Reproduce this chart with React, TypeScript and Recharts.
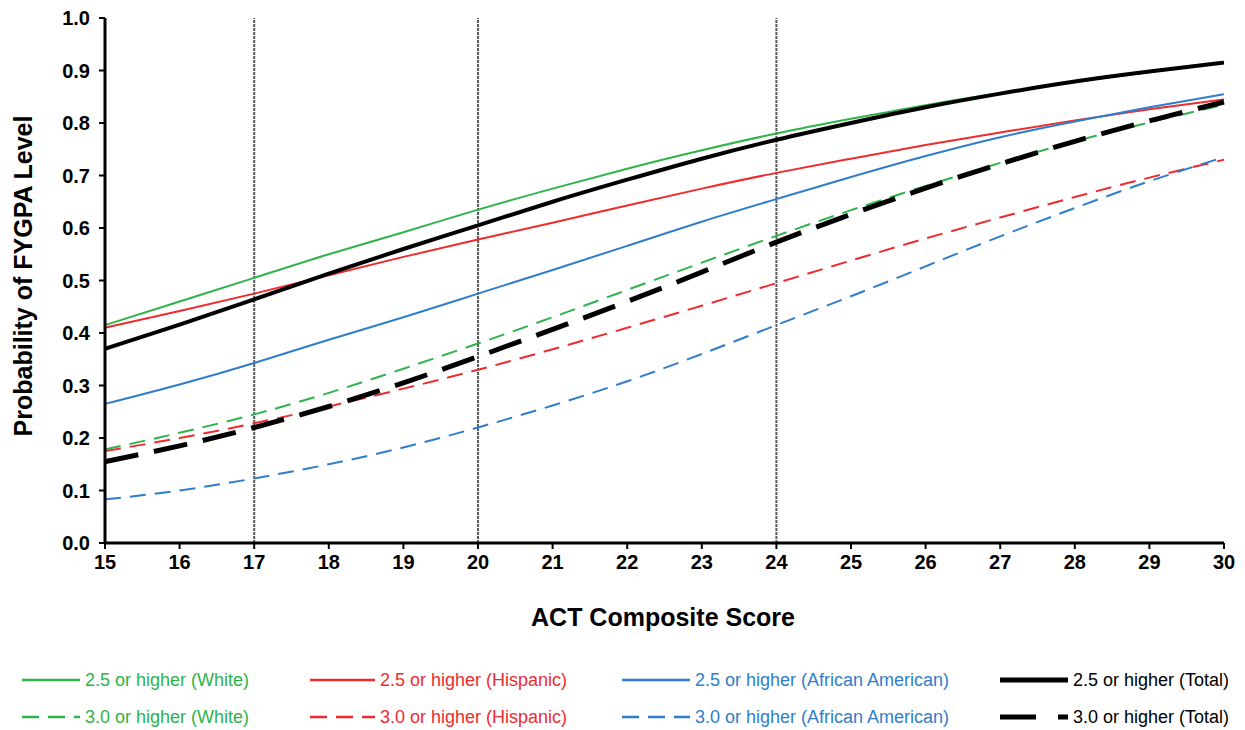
import React from 'react';
import { LineChart, Line, XAxis, YAxis, ReferenceLine, Legend } from 'recharts';

const scores = [15, 16, 17, 18, 19, 20, 21, 22, 23, 24, 25, 26, 27, 28, 29, 30];
const white25 = [0.415, 0.46, 0.505, 0.55, 0.592, 0.635, 0.675, 0.713, 0.748, 0.78, 0.808, 0.834, 0.857, 0.878, 0.897, 0.915];
const hisp25 = [0.41, 0.442, 0.475, 0.51, 0.545, 0.578, 0.61, 0.643, 0.675, 0.705, 0.732, 0.758, 0.782, 0.805, 0.826, 0.845];
const aa25 = [0.265, 0.302, 0.343, 0.387, 0.43, 0.475, 0.52, 0.566, 0.612, 0.655, 0.697, 0.737, 0.773, 0.803, 0.83, 0.855];
const total25 = [0.37, 0.416, 0.464, 0.513, 0.56, 0.605, 0.65, 0.692, 0.732, 0.768, 0.8, 0.83, 0.856, 0.879, 0.898, 0.915];
const white30 = [0.178, 0.21, 0.245, 0.286, 0.332, 0.38, 0.43, 0.482, 0.534, 0.585, 0.634, 0.68, 0.724, 0.765, 0.801, 0.835];
const hisp30 = [0.175, 0.2, 0.228, 0.26, 0.294, 0.33, 0.369, 0.41, 0.452, 0.495, 0.538, 0.58, 0.62, 0.659, 0.696, 0.73];
const aa30 = [0.083, 0.1, 0.123, 0.15, 0.182, 0.22, 0.262, 0.308, 0.36, 0.415, 0.47, 0.527, 0.584, 0.638, 0.689, 0.735];
const total30 = [0.155, 0.185, 0.22, 0.26, 0.305, 0.355, 0.407, 0.46, 0.516, 0.573, 0.626, 0.676, 0.722, 0.765, 0.804, 0.84];
const yTicks = [0, 0.1, 0.2, 0.3, 0.4, 0.5, 0.6, 0.7, 0.8, 0.9, 1.0];
const cutScores = [17, 20, 24];

const GREEN = '#2fb34a';
const RED = '#ee2b2f';
const BLUE = '#2f7dcb';
const BLACK = '#000000';

const data = scores.map((s, i) => ({
  score: s,
  white25: white25[i],
  hisp25: hisp25[i],
  aa25: aa25[i],
  total25: total25[i],
  white30: white30[i],
  hisp30: hisp30[i],
  aa30: aa30[i],
  total30: total30[i],
}));

type Item = { key: string; label: string; color: string; width: number; dash?: string };
const legendRow1: Item[] = [
  { key: 'white25', label: '2.5 or higher (White)', color: GREEN, width: 2.5 },
  { key: 'hisp25', label: '2.5 or higher (Hispanic)', color: RED, width: 2.5 },
  { key: 'aa25', label: '2.5 or higher (African American)', color: BLUE, width: 2.5 },
  { key: 'total25', label: '2.5 or higher (Total)', color: BLACK, width: 5 },
];
const legendRow2: Item[] = [
  { key: 'white30', label: '3.0 or higher (White)', color: GREEN, width: 2.5, dash: '17 9' },
  { key: 'hisp30', label: '3.0 or higher (Hispanic)', color: RED, width: 2.5, dash: '17 9' },
  { key: 'aa30', label: '3.0 or higher (African American)', color: BLUE, width: 2.5, dash: '17 9' },
  { key: 'total30', label: '3.0 or higher (Total)', color: BLACK, width: 5, dash: '36 22' },
];
const colX = [22, 310, 622, 1000];
const lineLen = [58, 65, 68, 68];

const FONT = '"Liberation Sans", Arial, sans-serif';

const renderLegend = () => (
  <div style={{ position: 'relative', width: 1245, height: 70, fontFamily: FONT }}>
    {[legendRow1, legendRow2].map((row, r) =>
      row.map((it, c) => (
        <div
          key={it.key}
          style={{
            position: 'absolute',
            left: colX[c],
            top: r * 37,
            height: 22,
            display: 'flex',
            alignItems: 'center',
            whiteSpace: 'nowrap',
          }}
        >
          <svg width={lineLen[c]} height={22} style={{ display: 'block' }}>
            <line x1={0} y1={11} x2={lineLen[c]} y2={11} stroke={it.color} strokeWidth={it.width} strokeDasharray={it.dash} />
          </svg>
          <span style={{ color: it.color, fontSize: 18, marginLeft: 5 }}>{it.label}</span>
        </div>
      ))
    )}
  </div>
);

export default function App() {
  return (
    <div style={{ position: 'absolute', left: 0, top: 0, width: 1245, height: 730, background: '#fff' }}>
      <LineChart
        width={1245}
        height={730}
        data={data}
        margin={{ top: 18, right: 21, left: 0, bottom: 87 }}
        style={{ fontFamily: FONT }}
      >
        <XAxis
          dataKey="score"
          type="number"
          domain={[15, 30]}
          ticks={scores}
          interval={0}
          height={30}
          axisLine={{ stroke: '#000', strokeWidth: 3 }}
          tickLine={{ stroke: '#000', strokeWidth: 2 }}
          tickSize={6}
          tickMargin={6}
          tick={{ fill: '#000', fontSize: 20, fontWeight: 'bold' }}
          label={{
            content: () => (
              <text x={663} y={626} textAnchor="middle" fontSize={25} fontWeight="bold" fill="#000" fontFamily={FONT}>
                ACT Composite Score
              </text>
            ),
          }}
        />
        <YAxis
          type="number"
          domain={[0, 1]}
          ticks={yTicks}
          interval={0}
          width={105}
          axisLine={{ stroke: '#000', strokeWidth: 3 }}
          tickLine={{ stroke: '#000', strokeWidth: 2 }}
          tickSize={6}
          tickMargin={9}
          tickFormatter={(v: number) => v.toFixed(1)}
          tick={{ fill: '#000', fontSize: 20, fontWeight: 'bold' }}
          label={{
            content: () => (
              <text
                x={32}
                y={276}
                textAnchor="middle"
                fontSize={25}
                fontWeight="bold"
                fill="#000"
                fontFamily={FONT}
                transform="rotate(-90 32 276)"
              >
                Probability of FYGPA Level
              </text>
            ),
          }}
        />
        {cutScores.map((c) => (
          <ReferenceLine key={c} x={c} stroke="#5a5a5a" strokeWidth={2} strokeDasharray="3 1" />
        ))}
        <Line type="natural" dataKey="white25" stroke={GREEN} strokeWidth={2} dot={false} isAnimationActive={false} />
        <Line type="natural" dataKey="hisp25" stroke={RED} strokeWidth={2} dot={false} isAnimationActive={false} />
        <Line type="natural" dataKey="aa25" stroke={BLUE} strokeWidth={2} dot={false} isAnimationActive={false} />
        <Line type="natural" dataKey="white30" stroke={GREEN} strokeWidth={2} strokeDasharray="16 9" dot={false} isAnimationActive={false} />
        <Line type="natural" dataKey="hisp30" stroke={RED} strokeWidth={2} strokeDasharray="16 9" dot={false} isAnimationActive={false} />
        <Line type="natural" dataKey="aa30" stroke={BLUE} strokeWidth={2} strokeDasharray="16 9" dot={false} isAnimationActive={false} />
        <Line type="natural" dataKey="total25" stroke={BLACK} strokeWidth={4} dot={false} isAnimationActive={false} />
        <Line type="natural" dataKey="total30" stroke={BLACK} strokeWidth={5} strokeDasharray="34 16" dot={false} isAnimationActive={false} />
        <Legend
          content={renderLegend}
          wrapperStyle={{ position: 'absolute', left: 0, top: 669, width: 1245, height: 70 }}
        />
      </LineChart>
    </div>
  );
}
